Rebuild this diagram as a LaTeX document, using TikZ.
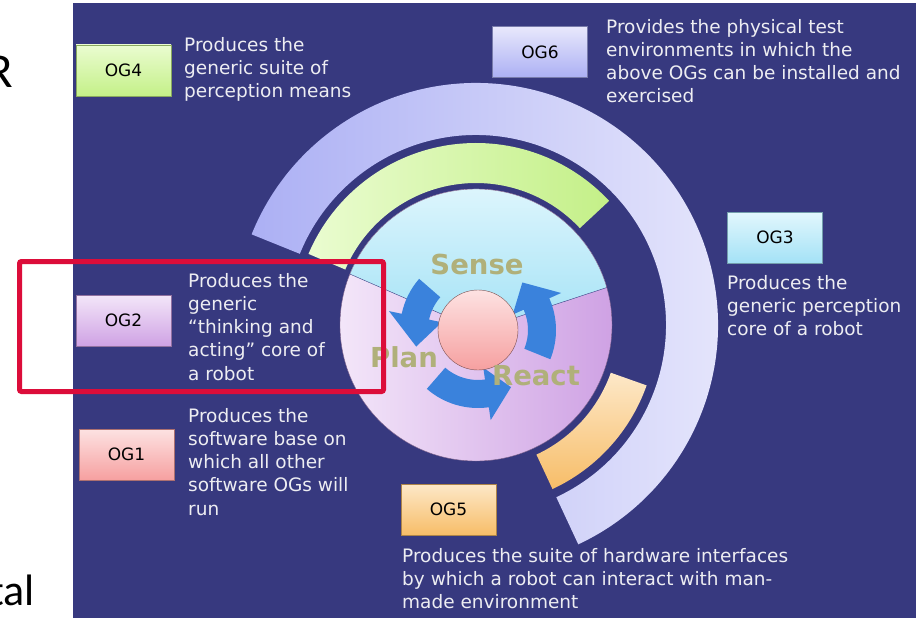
\documentclass[tikz,border=0pt]{standalone}
\usepackage{fontspec}
\setmainfont{DejaVu Sans}
\newfontfamily\slidefont{Carlito}
\usetikzlibrary{calc}

% colours
\definecolor{panel}{HTML}{37397F}
\definecolor{desctext}{HTML}{EDEDF2}
\definecolor{khaki}{HTML}{B0B07A}
\definecolor{cycblue}{HTML}{3A82DC}
\definecolor{markred}{HTML}{DC0D3A}
\definecolor{divline}{HTML}{3A3A80}
\definecolor{lavA}{HTML}{ACB0F4}
\definecolor{lavB}{HTML}{E8E8FC}
\definecolor{grnA}{HTML}{EAFCD0}
\definecolor{grnB}{HTML}{C4F088}
\definecolor{orgA}{HTML}{FDE8C8}
\definecolor{orgB}{HTML}{F7BD68}
\definecolor{cyaA}{HTML}{E2F7FD}
\definecolor{cyaB}{HTML}{A4E2F6}
\definecolor{purA}{HTML}{F3E6F9}
\definecolor{purB}{HTML}{CFA2E4}
\definecolor{pinkA}{HTML}{FDE2E2}
\definecolor{pinkB}{HTML}{F6A0A0}

\begin{document}
\begin{tikzpicture}[
  x=1pt, y=-1pt,
  ogbox/.style 2 args={draw=#2!70!black, top color=#1, bottom color=#2,
    minimum width=95pt, minimum height=51pt, inner sep=0pt,
    font=\fontsize{17}{20}\selectfont},
  desc/.style={anchor=north west, inner sep=0pt, align=left, text=desctext,
    font=\fontsize{18.5}{23.2}\selectfont},
  looptext/.style={text=khaki, inner sep=0pt,
    font=\bfseries\fontsize{27.5}{30}\selectfont},
  cutoff/.style={inner sep=0pt, font=\slidefont\fontsize{49}{55}\selectfont}
]
\useasboundingbox (0,0) rectangle (923,618);
\clip (0,0) rectangle (923,618);

% -------------------------
% Slide background
% -------------------------
\fill[white] (0,0) rectangle (923,618);
\fill[panel] (73,3) rectangle (916,618);

\node[cutoff, anchor=base east] (cutR)   at (13,87)  {R};
\node[cutoff, anchor=base east, font=\slidefont\fontsize{44}{50}\selectfont]
  (cuttal) at (35,605) {tal};

% -------------------------
% Rings and disk
% -------------------------
\begin{scope}[shift={(476,325)}, y=1pt]
% OG6 outer ring
\shade[left color=lavA, right color=lavB]
  (158:242) arc[start angle=158, end angle=-65, radius=242]
  -- (-65:190) arc[start angle=-65, end angle=158, radius=190] -- cycle;
% OG4 ring
\shade[left color=grnA, right color=grnB]
  (157:182) arc[start angle=157, end angle=43, radius=182]
  -- (43:142) arc[start angle=43, end angle=157, radius=142] -- cycle;
% OG5 ring
\shade[top color=orgA, bottom color=orgB]
  (-19.5:181) arc[start angle=-19.5, end angle=-65, radius=181]
  -- (-65:143) arc[start angle=-65, end angle=-19.5, radius=143] -- cycle;

% OG2 / OG3 disk
\shade[left color=purA, right color=purB] (0,0) circle[radius=136];
\shade[top color=cyaA, bottom color=cyaB]
  (2,-5) -- (16:136) arc[start angle=16, end angle=158, radius=136] -- cycle;
\draw[divline, thin] (158:136) -- (2,-5) -- (16:136);
\draw[purB!60!black, thin] (0,0) circle[radius=136];

% Sense / Plan / React cycle
\begin{scope}[shift={(2,-5)}]
\fill[cycblue] (139:78) arc[start angle=139, end angle=168, radius=78]
  -- (168:91) -- (195:64) -- (168:37)
  -- (168:50) arc[start angle=168, end angle=139, radius=50] -- cycle;
\fill[cycblue] (-131:78) arc[start angle=-131, end angle=-82, radius=78]
  -- (-82:91) -- (-60:66) -- (-82:38)
  -- (-82:50) arc[start angle=-82, end angle=-131, radius=50] -- cycle;
\fill[cycblue] (-22:78) arc[start angle=-22, end angle=24, radius=78]
  -- (24:91) -- (47:65) -- (24:38)
  -- (24:50) arc[start angle=24, end angle=-22, radius=50] -- cycle;
\node[circle, draw=pinkB!50!black, top color=pinkA, bottom color=pinkB,
  minimum size=80pt, inner sep=0pt] (core) at (0,0) {};
\end{scope}
\end{scope}

\node[looptext] (sense) at (477,264) {Sense};
\node[looptext] (plan)  at (404,357) {Plan};
\node[looptext] (react) at (536,376) {React};

% -------------------------
% OG boxes
% -------------------------
\node[ogbox={grnA}{grnB}]   (og4) at (123.5,70.5)  {OG4};
\node[ogbox={lavB}{lavA}]   (og6) at (540,52)      {OG6};
\node[ogbox={cyaA}{cyaB}]   (og3) at (775,237.5)   {OG3};
\node[ogbox={purA}{purB}]   (og2) at (123.5,320.5) {OG2};
\node[ogbox={pinkA}{pinkB}] (og1) at (126.5,454.5) {OG1};
\node[ogbox={orgA}{orgB}]   (og5) at (448.5,509.5) {OG5};

% -------------------------
% Descriptions
% -------------------------
\node[desc] (og4txt) at (184,37)
  {Produces the\\generic suite of\\perception means};
\node[desc] (og6txt) at (606,19)
  {Provides the physical test\\environments in which the\\above OGs can be installed and\\exercised};
\node[desc] (og3txt) at (727,275)
  {Produces the\\generic perception\\core of a robot};
\node[desc] (og2txt) at (188,273)
  {Produces the\\generic\\“thinking and\\acting” core of\\a robot};
\node[desc] (og1txt) at (188,408)
  {Produces the\\software base on\\which all other\\software OGs will\\run};
\node[desc] (og5txt) at (402,548)
  {Produces the suite of hardware interfaces\\by which a robot can interact with man-\\made environment};

% highlight frame
\draw[markred, line width=5pt, rounded corners=2pt]
  (19.5,261.5) rectangle (383.5,391.5);
\end{tikzpicture}
\end{document}
